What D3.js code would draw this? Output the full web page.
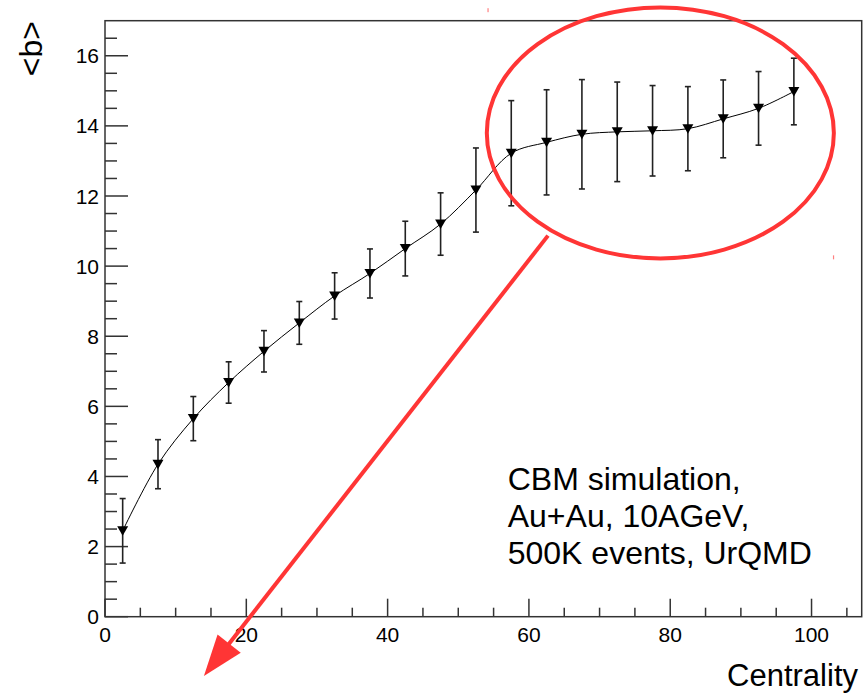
<!DOCTYPE html>
<html>
<head>
<meta charset="utf-8">
<script src="https://cdn.jsdelivr.net/npm/d3@7"></script>
<style>
  html, body { margin: 0; padding: 0; background: #fff; }
  svg { display: block; }
  text { font-family: "Liberation Sans", Arial, Helvetica, sans-serif; fill: #000; }
</style>
</head>
<body>
<svg id="chart" width="867" height="693"></svg>
<script>
// ---- data ----
const centrality = [2.5, 7.5, 12.5, 17.5, 22.5, 27.5, 32.5, 37.5, 42.5, 47.5,
                    52.5, 57.5, 62.5, 67.5, 72.5, 77.5, 82.5, 87.5, 92.5, 97.5];
const meanB = [2.45, 4.35, 5.65, 6.68, 7.57, 8.38, 9.15, 9.79, 10.5, 11.2,
               12.17, 13.22, 13.53, 13.76, 13.83, 13.86, 13.92, 14.2, 14.5, 14.98];
const errB  = [0.92, 0.70, 0.63, 0.59, 0.59, 0.61, 0.66, 0.70, 0.78, 0.89,
               1.20, 1.50, 1.50, 1.56, 1.42, 1.29, 1.20, 1.11, 1.05, 0.95];
const xTickLabels = [0, 20, 40, 60, 80, 100];
const yTickLabels = [0, 2, 4, 6, 8, 10, 12, 14, 16];
const xTitle = "Centrality";
const yTitle = "<b>";
const noteLines = ["CBM simulation,", "Au+Au, 10AGeV,", "500K events, UrQMD"];

// ---- layout ----
const svg = d3.select("#chart");
const W = 867, H = 693;
const pLeft = 105, pRight = 861.7, pTop = 20.7, pBottom = 616.7;
const x = d3.scaleLinear().domain([0, 107.1]).range([pLeft, pRight]);
const y = d3.scaleLinear().domain([0, 17]).range([pBottom, pTop]);
const red = "#ff3535";
const axisColor = "#333";

svg.append("rect").attr("width", W).attr("height", H).attr("fill", "#fff");

// frame
svg.append("rect")
  .attr("x", pLeft).attr("y", pTop)
  .attr("width", pRight - pLeft).attr("height", pBottom - pTop)
  .attr("fill", "none").attr("stroke", axisColor).attr("stroke-width", 1.5);

// x axis ticks (inward)
const xMinor = d3.range(0, 106, 5);
svg.append("g").selectAll("line").data(xMinor).join("line")
  .attr("x1", d => x(d)).attr("x2", d => x(d))
  .attr("y1", pBottom).attr("y2", d => pBottom - (d % 20 === 0 ? 18 : 9))
  .attr("stroke", axisColor).attr("stroke-width", 1.5);
svg.append("g").selectAll("text").data(xTickLabels).join("text")
  .attr("x", d => x(d)).attr("y", pBottom + 25)
  .attr("text-anchor", "middle")
  .attr("font-size", 21)
  .text(d => d);

// y axis ticks (inward)
const yMinor = d3.range(0, 16.6, 0.5);
svg.append("g").selectAll("line").data(yMinor).join("line")
  .attr("x1", pLeft).attr("x2", d => pLeft + (Math.abs(d % 2) < 1e-9 ? 23 : 12))
  .attr("y1", d => y(d)).attr("y2", d => y(d))
  .attr("stroke", axisColor).attr("stroke-width", 1.5);
svg.append("g").selectAll("text").data(yTickLabels).join("text")
  .attr("x", pLeft - 6).attr("y", d => y(d))
  .attr("dy", "0.36em")
  .attr("text-anchor", "end")
  .attr("font-size", 21)
  .text(d => d);

// axis titles
svg.append("text")
  .attr("x", 858).attr("y", 686)
  .attr("text-anchor", "end")
  .attr("font-size", 31)
  .text(xTitle);
svg.append("text")
  .attr("transform", "translate(42,21) rotate(-90)")
  .attr("text-anchor", "end")
  .attr("font-size", 32)
  .text(yTitle);

// data
const pts = centrality.map((c, i) => ({ c, b: meanB[i], e: errB[i] }));

// smooth connecting line
svg.append("path")
  .datum(pts)
  .attr("fill", "none").attr("stroke", "#000").attr("stroke-width", 1)
  .attr("d", d3.line().x(d => x(d.c)).y(d => y(d.b)).curve(d3.curveCatmullRom.alpha(0.5)));

// error bars
const eb = svg.append("g").attr("stroke", "#222").attr("stroke-width", 1.6);
eb.selectAll("line.v").data(pts).join("line").attr("class", "v")
  .attr("x1", d => x(d.c)).attr("x2", d => x(d.c))
  .attr("y1", d => y(d.b - d.e)).attr("y2", d => y(d.b + d.e));
eb.selectAll("line.t").data(pts).join("line").attr("class", "t")
  .attr("x1", d => x(d.c) - 3).attr("x2", d => x(d.c) + 3)
  .attr("y1", d => y(d.b + d.e)).attr("y2", d => y(d.b + d.e));
eb.selectAll("line.b").data(pts).join("line").attr("class", "b")
  .attr("x1", d => x(d.c) - 3).attr("x2", d => x(d.c) + 3)
  .attr("y1", d => y(d.b - d.e)).attr("y2", d => y(d.b - d.e));

// down-triangle markers
svg.append("g").selectAll("path").data(pts).join("path")
  .attr("transform", d => `translate(${x(d.c)},${y(d.b)})`)
  .attr("d", "M-5.5,-4.5 L5.5,-4.5 L0,5 Z")
  .attr("fill", "#000");

// annotation text
const note = svg.append("text").attr("font-size", 32);
noteLines.forEach((t, i) => {
  note.append("tspan").attr("x", x(57.0)).attr("y", y(3.61) + i * 36.7).text(t);
});

// red ellipse (data coords)
const ecx = 78.6, ecy = 13.8, erx = 24.56, ery = 3.58;
svg.append("ellipse")
  .attr("cx", x(ecx)).attr("cy", y(ecy))
  .attr("rx", x(ecx + erx) - x(ecx)).attr("ry", y(ecy - ery) - y(ecy))
  .attr("fill", "none").attr("stroke", red).attr("stroke-width", 4);

// red arrow (data coords)
const a0 = [x(62.7), y(10.87)], a1 = [x(14.0), y(-1.69)];
const dx = a1[0] - a0[0], dy = a1[1] - a0[1];
const len = Math.hypot(dx, dy), ux = dx / len, uy = dy / len;
const headL = 41, headW = 14.7;
const base = [a1[0] - ux * headL, a1[1] - uy * headL];
svg.append("line")
  .attr("x1", a0[0]).attr("y1", a0[1]).attr("x2", base[0] + ux * 4).attr("y2", base[1] + uy * 4)
  .attr("stroke", red).attr("stroke-width", 4);
svg.append("path")
  .attr("d", `M${a1[0]},${a1[1]} L${base[0] - uy * headW},${base[1] + ux * headW} L${base[0] + uy * headW},${base[1] - ux * headW} Z`)
  .attr("fill", red);

// tiny selection-handle remnants
svg.append("g").selectAll("rect").data([[54.2, 17.3], [103.1, 10.25]]).join("rect")
  .attr("x", d => x(d[0]) - 0.5).attr("y", d => y(d[1]) - 2)
  .attr("width", 1.2).attr("height", 4)
  .attr("fill", "#ff8080");
</script>
</body>
</html>
